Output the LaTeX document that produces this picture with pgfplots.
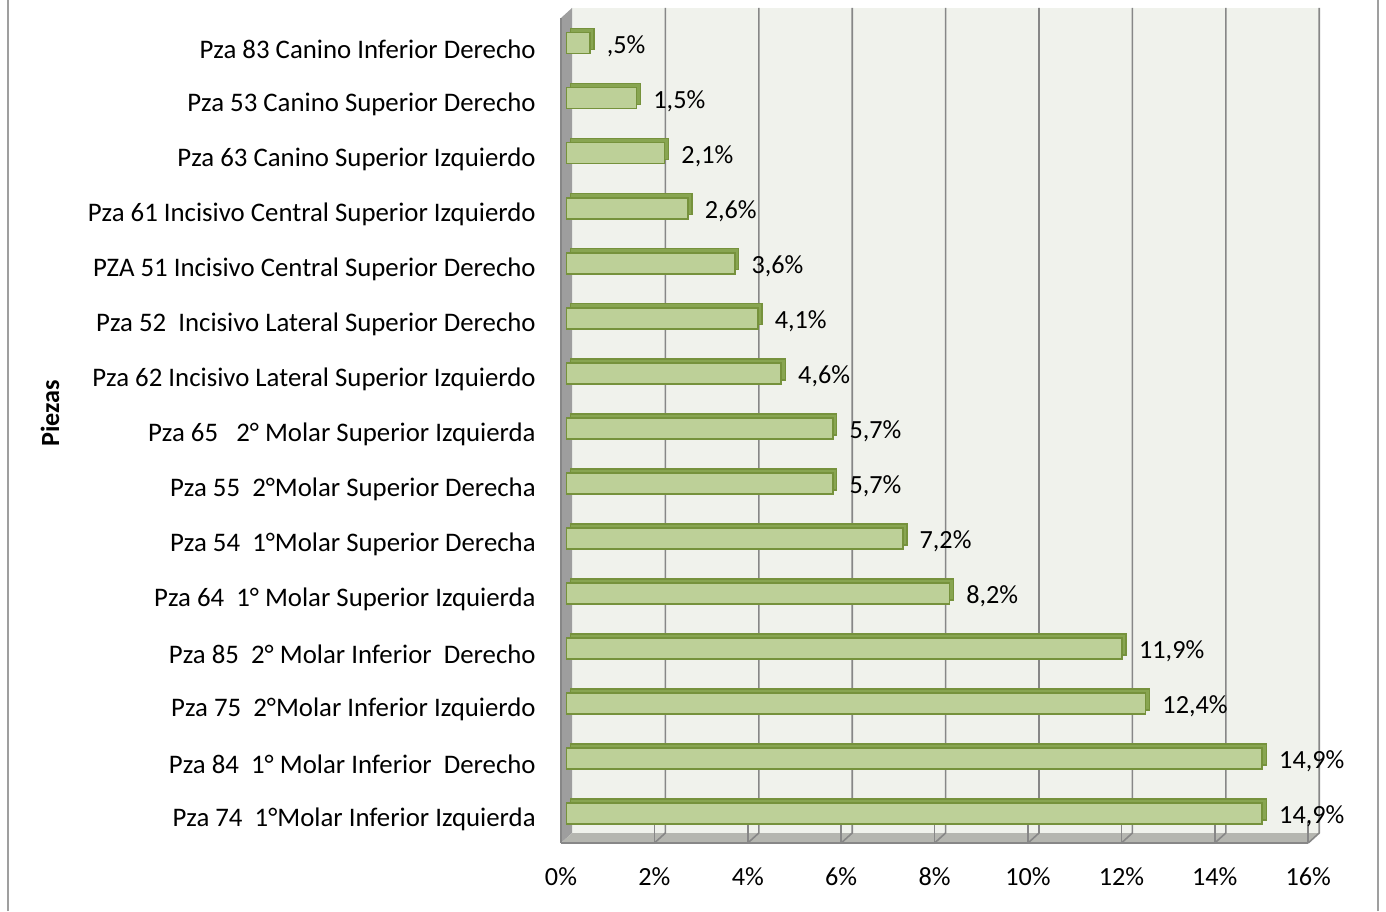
\documentclass[border=0pt]{standalone}
\usepackage{pgfplots}
\usepackage{pgfplotstable}
\pgfplotsset{compat=1.18}
\usepackage{fontspec}
\setmainfont{Carlito}
\definecolor{barf}{HTML}{BDD098}
\definecolor{bard}{HTML}{76923C}
\definecolor{barside}{HTML}{88A551}
\definecolor{wallbg}{HTML}{F0F2EC}
\definecolor{sidewall}{HTML}{9E9E9E}
\definecolor{floorc}{HTML}{B5B6B0}
\definecolor{gridc}{HTML}{878787}
\newcommand{\lf}{\fontsize{13.1}{15}\selectfont}
\newcommand{\yf}{\fontsize{13.4}{15}\selectfont}

\pgfplotstableread{
y v lab
0 14.9 14,9
1 14.9 14,9
2 12.4 12,4
3 11.9 11,9
4 8.2 8,2
5 7.2 7,2
6 5.7 5,7
7 5.7 5,7
8 4.6 4,6
9 4.1 4,1
10 3.6 3,6
11 2.6 2,6
12 2.1 2,1
13 1.5 1,5
14 0.5 ,5
}\data

\begin{document}
\begin{tikzpicture}
\path[use as bounding box] (0,0) rectangle (693pt,455.5pt);
\draw[color=gray!75, line width=1pt] (4pt,0) -- (4pt,455.5pt);
\draw[color=gray!75, line width=1pt] (689pt,0) -- (689pt,455.5pt);
\begin{axis}[
  at={(283.25pt,35pt)}, anchor=south west,
  scale only axis, width=373.6pt, height=412.75pt,
  xmin=0, xmax=16, ymin=-0.5, ymax=14.5,
  clip=false,
  axis line style={draw=none},
  tick style={draw=none},
  xtick={0,2,4,6,8,10,12,14,16},
  xticklabels={0\%,2\%,4\%,6\%,8\%,10\%,12\%,14\%,16\%},
  ytick={0,1,...,14},
  yticklabels={
    Pza 74\ \ 1°Molar Inferior Izquierda,
    Pza 84\ \ 1° Molar Inferior\ \ Derecho,
    Pza 75\ \ 2°Molar Inferior Izquierdo,
    Pza 85\ \ 2° Molar Inferior\ \ Derecho,
    Pza 64\ \ 1° Molar Superior Izquierda,
    Pza 54\ \ 1°Molar Superior Derecha,
    Pza 55\ \ 2°Molar Superior Derecha,
    Pza 65\ \ \ 2° Molar Superior Izquierda,
    Pza 62 Incisivo Lateral Superior Izquierdo,
    Pza 52\ \ Incisivo Lateral Superior Derecho,
    PZA 51 Incisivo Central Superior Derecho,
    Pza 61 Incisivo Central Superior Izquierdo,
    Pza 63 Canino Superior Izquierdo,
    Pza 53 Canino Superior Derecho\ ,
    Pza 83 Canino Inferior Derecho},
  tick label style={inner sep=0pt},
  /pgf/number format/assume math mode=true,
  xticklabel style={font=\lf, xshift=-2.75pt, yshift=-13pt},
  yticklabel style={font=\yf, xshift=-15.25pt, yshift=-3pt},
]
% back wall
\fill[wallbg] ([xshift=2.75pt,yshift=4pt]axis cs:0,-0.5) rectangle ([xshift=2.75pt,yshift=3.75pt]axis cs:16,14.5);
% left wall
\fill[sidewall] ([xshift=-2.75pt,yshift=-1pt]axis cs:0,-0.5) -- ([xshift=2.75pt,yshift=4pt]axis cs:0,-0.5)
  -- ([xshift=2.75pt,yshift=3.75pt]axis cs:0,14.5) -- ([xshift=-2.75pt,yshift=-1.25pt]axis cs:0,14.5) -- cycle;
% floor
\fill[floorc] ([xshift=-2.75pt,yshift=-1pt]axis cs:0,-0.5) -- ([xshift=2.75pt,yshift=4pt]axis cs:0,-0.5)
  -- ([xshift=2.75pt,yshift=4pt]axis cs:16,-0.5) -- ([xshift=-2.75pt,yshift=-1pt]axis cs:16,-0.5) -- cycle;
\pgfplotsinvokeforeach{2,4,6,8,10,12,14,16}{
  \draw[gridc, line width=0.8pt] ([xshift=2.75pt,yshift=3.75pt]axis cs:#1,14.5) -- ([xshift=2.75pt,yshift=4pt]axis cs:#1,-0.5) -- ([xshift=-2.75pt,yshift=-1pt]axis cs:#1,-0.5);
}
\pgfplotsinvokeforeach{0,2,4,6,8,10,12,14,16}{
  \draw[gridc, line width=0.8pt] ([xshift=-2.75pt,yshift=-1pt]axis cs:#1,-0.5) -- ++(0,-3.5pt);
}
\draw[gridc, line width=0.8pt] ([xshift=-2.75pt,yshift=-1pt]axis cs:0,-0.5) -- ([xshift=-2.75pt,yshift=-1pt]axis cs:16,-0.5);
\draw[gridc, line width=0.6pt] ([xshift=-2.75pt,yshift=-1pt]axis cs:0,-0.5) -- ([xshift=-2.75pt,yshift=-1.25pt]axis cs:0,14.5);

\addplot[xbar, bar width=10.5pt, bar shift=0pt, fill=barside, draw=bard, line width=0.8pt,
  xshift=2pt, yshift=2pt] table[x=v, y=y] {\data};
\addplot[xbar, bar width=10.5pt, bar shift=0pt, fill=barf, draw=bard, line width=0.9pt,
  point meta=explicit symbolic,
  nodes near coords={\pgfplotspointmeta\%},
  every node near coord/.append style={anchor=west, inner sep=0pt, xshift=8pt, yshift=-1.5pt, font=\lf, text=black}]
  table[x=v, y=y, meta=lab] {\data};
\end{axis}
\node[rotate=90, font=\bfseries\lf] at (25pt,249pt) {Piezas};
\end{tikzpicture}
\end{document}
